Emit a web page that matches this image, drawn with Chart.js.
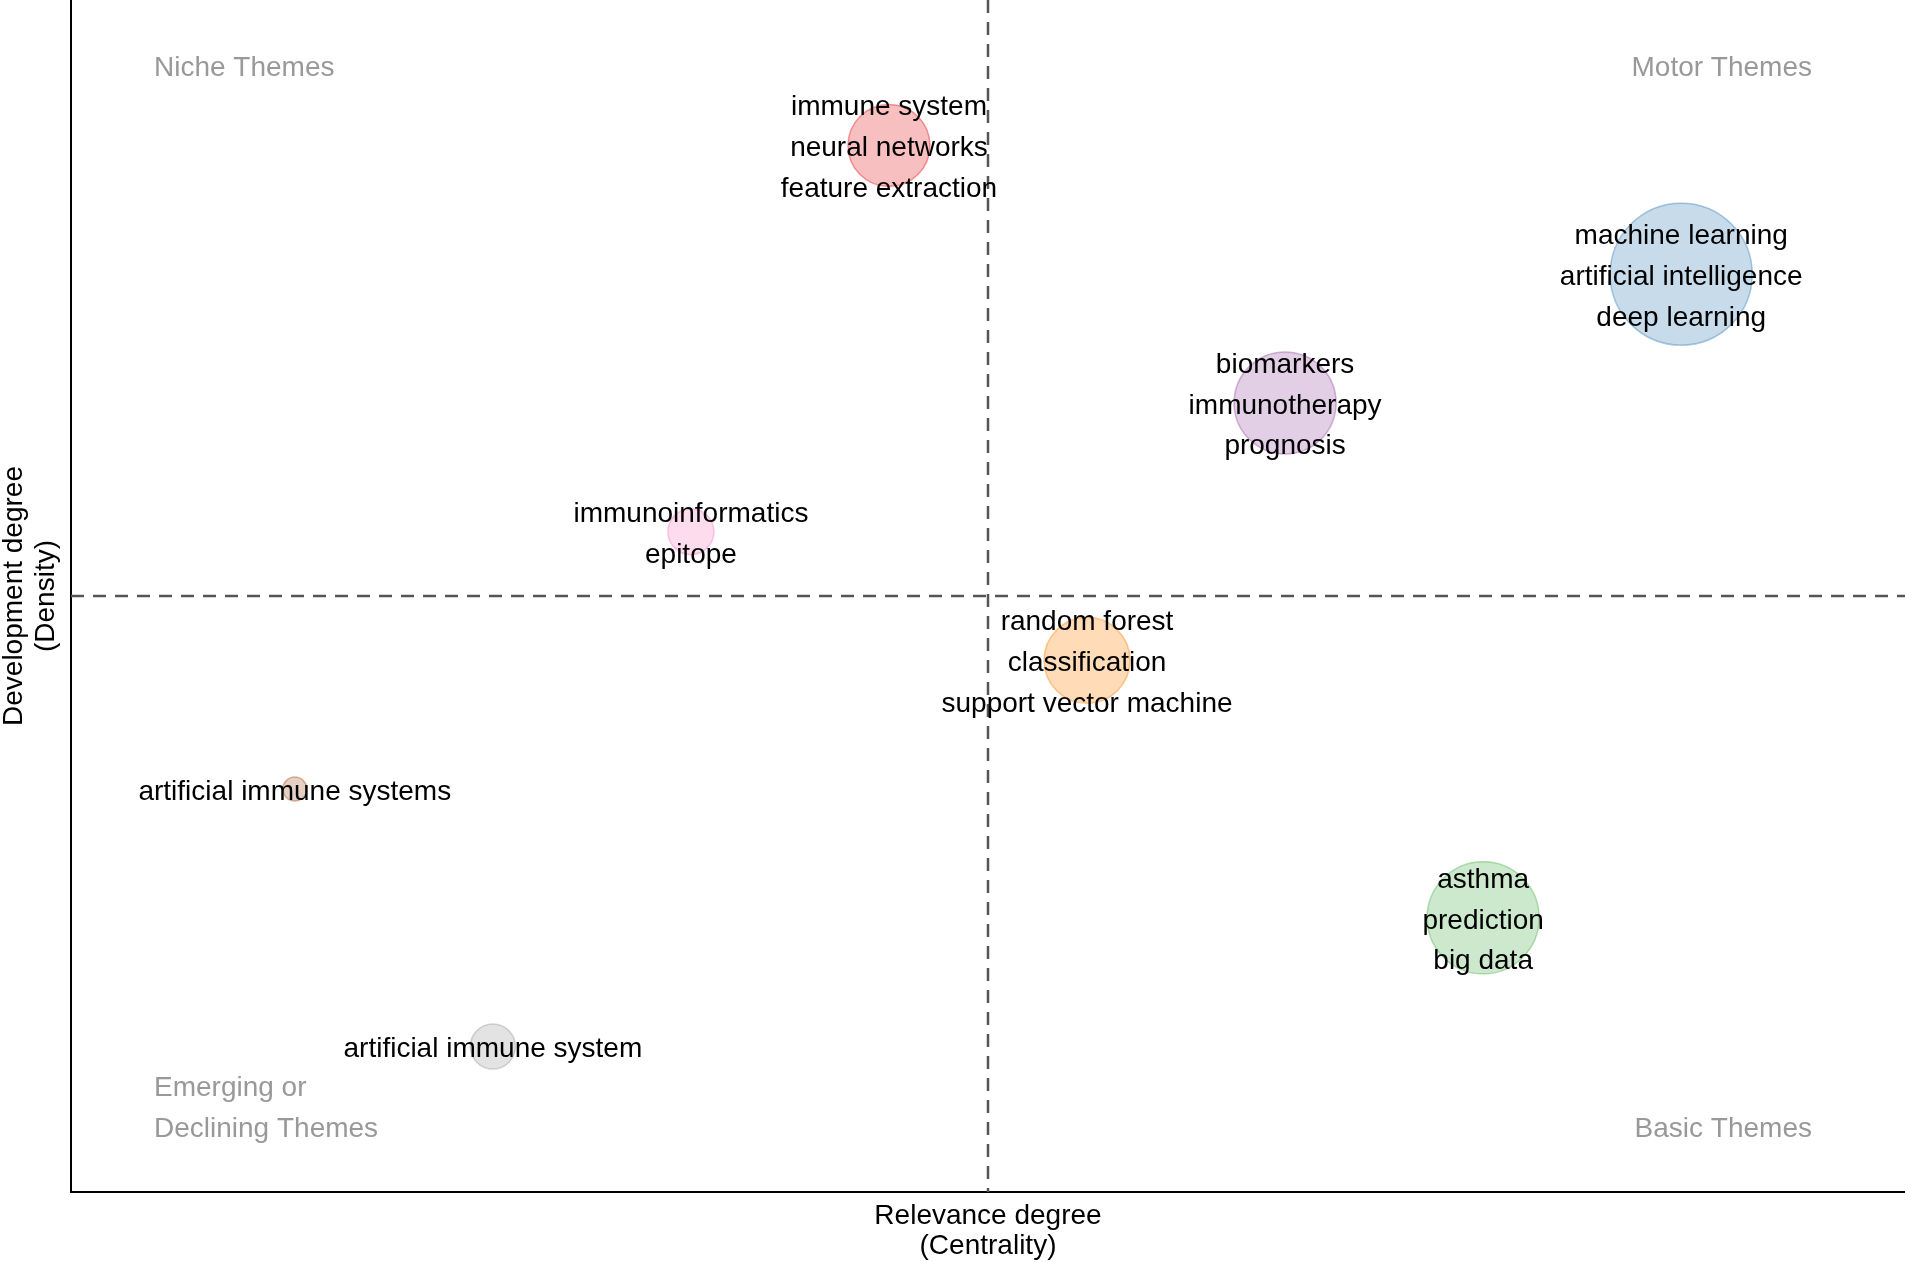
<!DOCTYPE html>
<html lang="en">
<head>
    <meta charset="UTF-8">
    <title>Thematic map</title>
    <script src="https://cdn.jsdelivr.net/npm/chart.js"></script>
    <style>
        html, body { margin: 0; padding: 0; background: #fff; overflow: hidden; }
        #wrap { width: 1905px; height: 1262px; position: relative; }
    </style>
</head>
<body>
    <div id="wrap">
        <canvas id="mapa"></canvas>
    </div>

<script>
    // clusters (labels shown inside / around each bubble)
    const clusterLabels = [
        ["immune system", "neural networks", "feature extraction"],
        ["machine learning", "artificial intelligence", "deep learning"],
        ["biomarkers", "immunotherapy", "prognosis"],
        ["immunoinformatics", "epitope"],
        ["random forest", "classification", "support vector machine"],
        ["artificial immune systems"],
        ["asthma", "prediction", "big data"],
        ["artificial immune system"]
    ];
    // rank centrality / rank density
    const centrality = [4, 8, 6, 3, 5, 1, 7, 2];
    const density = [8, 7, 6, 5, 4, 3, 2, 1];
    // bubble size (radius)
    const clusterSize = [41, 71, 51, 23, 43, 12, 56, 22.5];

    const axisMin = -0.13;
    const axisMax = 9.13;
    const meanCentrality = 4.5;
    const meanDensity = 4.5;

    const quadrants = [
        { text: ["Niche Themes"], side: "left", top: true },
        { text: ["Motor Themes"], side: "right", top: true },
        { text: ["Emerging or", "Declining Themes"], side: "left", top: false },
        { text: ["Basic Themes"], side: "right", top: false }
    ];

    const palette = ['228,26,28', '55,126,184', '152,78,163', '247,129,191', '255,127,0', '166,86,40', '77,175,74', '153,153,153'];
    const fonte = '"Liberation Sans", Arial, sans-serif';

    const pontos = centrality.map((c, i) => ({ x: c, y: density[i], r: clusterSize[i] }));

    const linhasMedias = {
        id: 'linhasMedias',
        beforeDatasetsDraw(chart) {
            const { ctx, chartArea, scales } = chart;
            const px = scales.x.getPixelForValue(meanCentrality);
            const py = scales.y.getPixelForValue(meanDensity);
            ctx.save();
            ctx.strokeStyle = '#555';
            ctx.lineWidth = 2.5;
            ctx.setLineDash([13, 9]);
            ctx.beginPath();
            ctx.moveTo(px, chartArea.top);
            ctx.lineTo(px, chartArea.bottom);
            ctx.moveTo(chartArea.left, py);
            ctx.lineTo(chartArea.right, py);
            ctx.stroke();
            ctx.restore();
        }
    };

    const rotulos = {
        id: 'rotulos',
        afterDatasetsDraw(chart) {
            const { ctx, chartArea } = chart;
            ctx.save();
            ctx.font = '28px ' + fonte;
            ctx.textBaseline = 'middle';

            // quadrant names
            ctx.fillStyle = '#999';
            quadrants.forEach(q => {
                ctx.textAlign = q.side;
                const x = q.side === 'left' ? chartArea.left + 83 : chartArea.right - 93;
                q.text.forEach((t, k) => {
                    const y = q.top ? chartArea.top + 68 + k * 40.7
                                    : chartArea.bottom - 63 - (q.text.length - 1 - k) * 40.7;
                    ctx.fillText(t, x, y);
                });
            });

            // cluster words
            ctx.fillStyle = '#000';
            ctx.textAlign = 'center';
            const meta = chart.getDatasetMeta(0);
            meta.data.forEach((el, i) => {
                const linhas = clusterLabels[i];
                linhas.forEach((t, k) => {
                    ctx.fillText(t, el.x, el.y + 3 + (k - (linhas.length - 1) / 2) * 40.7);
                });
            });
            ctx.restore();
        }
    };

    new Chart(document.getElementById('mapa'), {
        type: 'bubble',
        data: {
            datasets: [{
                data: pontos,
                backgroundColor: palette.map(c => `rgba(${c},0.28)`),
                borderColor: palette.map(c => `rgba(${c},0.42)`),
                borderWidth: 1.5,
                clip: false
            }]
        },
        options: {
            responsive: true,
            maintainAspectRatio: false,
            animation: false,
            events: [],
            layout: { padding: 0, autoPadding: false },
            plugins: {
                legend: { display: false },
                tooltip: { enabled: false }
            },
            scales: {
                x: {
                    min: axisMin,
                    max: axisMax,
                    grid: { display: false },
                    ticks: { display: false },
                    border: { display: true, color: '#000', width: 2 },
                    title: {
                        display: true,
                        text: ['Relevance degree', '(Centrality)'],
                        color: '#000',
                        font: { family: fonte, size: 28, lineHeight: 1.1 },
                        padding: { top: 0, bottom: 0 }
                    },
                    afterFit: (scale) => { scale.height = 70; }
                },
                y: {
                    min: axisMin,
                    max: axisMax,
                    grid: { display: false },
                    ticks: { display: false },
                    border: { display: true, color: '#000', width: 2 },
                    title: {
                        display: true,
                        text: ['Development degree', '(Density)'],
                        color: '#000',
                        font: { family: fonte, size: 28, lineHeight: 1.12 },
                        padding: { top: -1, bottom: 0 }
                    },
                    afterFit: (scale) => { scale.width = 71; }
                }
            }
        },
        plugins: [linhasMedias, rotulos]
    });
</script>
</body>
</html>
